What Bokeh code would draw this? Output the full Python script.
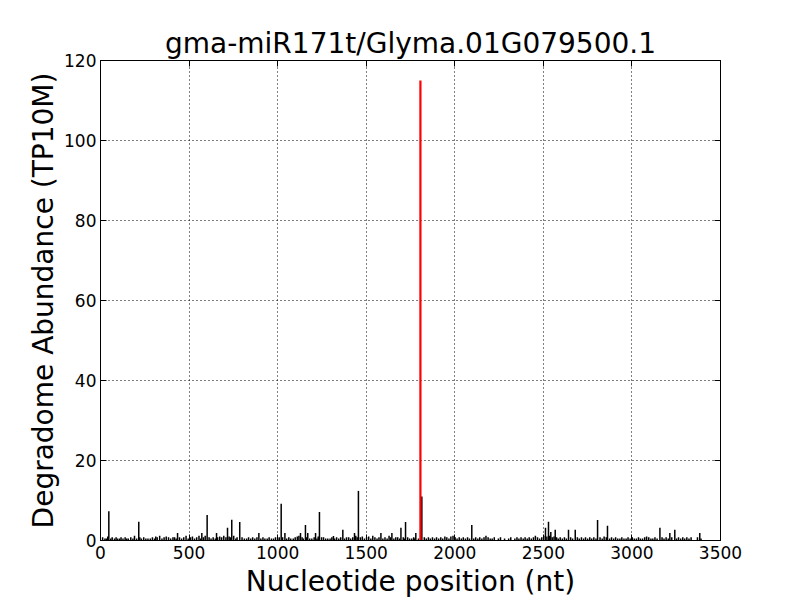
from bokeh.plotting import figure
from bokeh.models import Range1d, FixedTicker, LinearAxis, ColumnDataSource
from bokeh.embed import file_html
from bokeh.resources import INLINE

title_text = "gma-miR171t/Glyma.01G079500.1"
x_label = "Nucleotide position (nt)"
y_label = "Degradome Abundance (TP10M)"
x_ticks = [0, 500, 1000, 1500, 2000, 2500, 3000, 3500]
y_ticks = [0, 20, 40, 60, 80, 100, 120]

# target (cleavage) site
target_pos = [1806]
target_val = [115]

# larger background peaks
peak_pos = [47, 216, 435, 572, 602, 655, 717, 741, 786, 894,
            1020, 1041, 1129, 1157, 1170, 1214, 1236, 1315, 1368, 1434,
            1456, 1583, 1645, 1696, 1722, 1780, 1814, 2096, 2491, 2512,
            2529, 2542, 2567, 2642, 2680, 2806, 2862, 3158, 3214, 3242,
            3383]
peak_val = [7.3, 4.7, 1.9, 1.9, 6.4, 1.9, 3.2, 5.2, 4.6, 1.9,
            9.2, 1.9, 1.9, 3.9, 1.9, 1.9, 7.1, 1.1, 2.7, 1.9,
            12.4, 1.9, 1.9, 3.2, 4.6, 1.9, 11.0, 3.9, 0.8, 3.2,
            4.7, 2.1, 2.7, 2.7, 2.7, 5.1, 3.7, 3.2, 1.9, 2.7,
            1.9]

# small background reads (position, abundance)
small_reads = [
    (12, 0.8), (25, 0.5), (33, 0.5), (41, 1.0), (58, 0.5), (66, 0.8), (79, 0.5), (88, 0.8), (97, 0.5), (108, 0.5),
    (116, 0.8), (127, 0.5), (139, 0.8), (148, 0.5), (157, 0.5), (171, 0.8), (183, 0.5), (192, 1.2), (204, 0.5), (222, 0.8),
    (231, 0.5), (244, 0.8), (256, 0.5), (268, 0.5), (281, 0.5), (293, 0.8), (305, 0.5), (312, 1.0), (320, 0.8), (334, 1.2),
    (347, 0.5), (359, 0.8), (371, 1.0), (384, 0.8), (396, 0.5), (409, 0.8), (418, 0.8), (427, 0.5), (446, 0.8), (458, 0.5),
    (470, 0.8), (483, 1.2), (495, 0.5), (508, 0.8), (519, 1.0), (531, 0.5), (543, 0.8), (556, 1.2), (565, 0.5), (581, 0.8),
    (591, 1.2), (613, 0.8), (624, 0.5), (636, 0.8), (648, 0.5), (661, 0.8), (673, 1.0), (684, 0.8), (696, 1.2), (708, 0.8),
    (726, 1.0), (733, 0.8), (752, 1.2), (764, 0.5), (771, 0.8), (799, 0.8), (812, 0.5), (825, 0.5), (836, 0.8), (848, 0.5),
    (859, 0.8), (871, 0.5), (883, 0.8), (905, 0.5), (917, 0.8), (928, 0.5), (941, 0.5), (952, 0.8), (965, 0.5), (977, 0.5),
    (988, 0.8), (1000, 0.5), (1009, 0.8), (1028, 0.8), (1051, 0.5), (1063, 0.8), (1074, 0.5), (1088, 0.5), (1099, 0.8), (1111, 1.0),
    (1120, 1.2), (1138, 0.8), (1145, 0.5), (1163, 0.8), (1181, 0.5), (1193, 0.5), (1206, 0.8), (1222, 0.5), (1229, 1.0), (1248, 0.8),
    (1259, 0.8), (1271, 0.5), (1283, 0.5), (1296, 0.5), (1306, 0.8), (1322, 0.5), (1333, 0.8), (1345, 0.5), (1356, 0.8), (1378, 0.5),
    (1389, 0.8), (1401, 0.8), (1412, 0.5), (1424, 0.8), (1441, 1.2), (1449, 0.8), (1467, 0.8), (1478, 1.0), (1490, 0.5), (1502, 0.8),
    (1514, 1.0), (1526, 0.5), (1537, 1.2), (1549, 0.8), (1561, 0.5), (1572, 0.8), (1594, 0.5), (1606, 0.8), (1618, 0.5), (1629, 1.2),
    (1638, 0.8), (1656, 0.5), (1667, 0.8), (1678, 0.8), (1689, 0.5), (1709, 0.8), (1716, 0.5), (1734, 0.8), (1745, 0.5), (1757, 0.5),
    (1768, 0.8), (1774, 0.5), (1795, 0.5), (1828, 0.8), (1839, 0.5), (1851, 0.8), (1862, 0.5), (1874, 0.8), (1886, 0.5), (1897, 0.8),
    (1909, 0.5), (1921, 0.8), (1932, 0.5), (1944, 1.0), (1955, 0.8), (1967, 0.5), (1978, 1.0), (1990, 1.2), (2002, 0.8), (2013, 0.5),
    (2025, 0.8), (2037, 0.5), (2048, 0.8), (2060, 0.5), (2072, 0.8), (2083, 0.5), (2107, 0.5), (2118, 0.8), (2130, 0.5), (2141, 0.8),
    (2153, 0.5), (2165, 0.8), (2176, 1.2), (2188, 0.8), (2200, 0.5), (2211, 0.5), (2223, 0.8), (2246, 0.5), (2258, 0.8), (2281, 0.5),
    (2304, 0.5), (2316, 0.8), (2339, 0.5), (2351, 0.8), (2362, 0.5), (2374, 0.8), (2386, 0.5), (2397, 0.8), (2409, 0.5), (2420, 0.8),
    (2432, 0.5), (2444, 0.8), (2455, 1.2), (2467, 0.8), (2479, 0.5), (2502, 1.2), (2520, 1.0), (2536, 1.2), (2550, 0.8), (2560, 1.0),
    (2575, 0.8), (2584, 0.5), (2595, 0.8), (2607, 0.5), (2619, 0.8), (2630, 0.5), (2654, 0.8), (2665, 0.5), (2692, 0.8), (2703, 0.5),
    (2715, 0.8), (2727, 0.5), (2738, 0.8), (2750, 0.5), (2762, 0.8), (2773, 0.5), (2785, 0.8), (2797, 0.5), (2820, 0.8), (2832, 0.5),
    (2843, 1.0), (2855, 0.8), (2874, 0.5), (2885, 0.8), (2897, 0.5), (2908, 0.8), (2920, 0.5), (2932, 0.5), (2943, 0.8), (2955, 0.5),
    (2967, 0.5), (2978, 0.8), (2990, 0.5), (3002, 0.8), (3013, 0.5), (3025, 0.5), (3037, 0.8), (3048, 0.5), (3060, 0.5), (3072, 0.8),
    (3083, 1.0), (3095, 0.8), (3107, 0.5), (3118, 0.5), (3130, 0.8), (3142, 0.5), (3170, 0.8), (3181, 0.5), (3193, 0.8), (3205, 0.5),
    (3225, 0.8), (3252, 0.5), (3263, 0.8), (3275, 0.5), (3287, 0.8), (3298, 0.5), (3310, 0.8), (3322, 0.5), (3334, 0.8), (3370, 0.8),
    (3390, 0.5),
]
small_pos = [p for p, _ in small_reads]
small_val = [v for _, v in small_reads]

FONT = "DejaVu Sans"

p = figure(width=800, height=600, output_backend="svg", toolbar_location=None,
           x_range=Range1d(0, 3500), y_range=Range1d(0, 120),
           min_border_left=100, min_border_right=80, min_border_top=60, min_border_bottom=60)

p.title.text = title_text
p.title.align = "center"
p.title.text_font = FONT
p.title.text_font_size = "28px"
p.title.text_font_style = "normal"
p.title.text_color = "black"
p.title.standoff = 2

p.outline_line_color = "black"
p.outline_line_width = 1
p.outline_line_alpha = 1
p.background_fill_color = "white"
p.border_fill_color = "white"

for ax, ticks, lab in ((p.xaxis[0], x_ticks, x_label), (p.yaxis[0], y_ticks, y_label)):
    ax.ticker = FixedTicker(ticks=ticks)
    ax.axis_label = lab
    ax.axis_label_text_font = FONT
    ax.axis_label_text_font_size = "28px"
    ax.axis_label_text_font_style = "normal"
    ax.axis_label_text_color = "black"
    ax.major_label_text_font = FONT
    ax.major_label_text_font_size = "17px"
    ax.major_label_text_color = "black"
    ax.major_tick_in = 6
    ax.major_tick_out = 0
    ax.minor_tick_in = 0
    ax.minor_tick_out = 0
    ax.axis_line_color = "black"
    ax.major_tick_line_color = "black"
p.xaxis[0].major_label_standoff = 5
p.xaxis[0].axis_label_standoff = 3
p.yaxis[0].major_label_standoff = 4
p.yaxis[0].axis_label_standoff = 1

for loc, ticks in (("above", x_ticks), ("right", y_ticks)):
    ax = LinearAxis(ticker=FixedTicker(ticks=ticks))
    ax.major_label_text_font_size = "0px"
    ax.major_label_text_color = None
    ax.major_tick_in = 6
    ax.major_tick_out = 0
    ax.minor_tick_in = 0
    ax.minor_tick_out = 0
    ax.major_label_standoff = 0
    ax.axis_line_color = "black"
    ax.major_tick_line_color = "black"
    p.add_layout(ax, loc)

for g in (p.xgrid[0], p.ygrid[0]):
    g.grid_line_color = "black"
    g.grid_line_dash = "1 3"
    g.grid_line_width = 1
p.xgrid[0].ticker = FixedTicker(ticks=x_ticks)
p.ygrid[0].ticker = FixedTicker(ticks=y_ticks)

small_src = ColumnDataSource(dict(x=small_pos, y0=[0] * len(small_pos), y=small_val))
peak_src = ColumnDataSource(dict(x=peak_pos, y0=[0] * len(peak_pos), y=peak_val))
tgt_src = ColumnDataSource(dict(x=target_pos, y0=[0] * len(target_pos), y=target_val))

p.segment(x0="x", y0="y0", x1="x", y1="y", source=small_src, line_color="black", line_width=1.5)
p.segment(x0="x", y0="y0", x1="x", y1="y", source=peak_src, line_color="black", line_width=1.5)
p.segment(x0="x", y0="y0", x1="x", y1="y", source=tgt_src, line_color="red", line_width=2.2)

open("out.html", "w").write(file_html(p, INLINE))
